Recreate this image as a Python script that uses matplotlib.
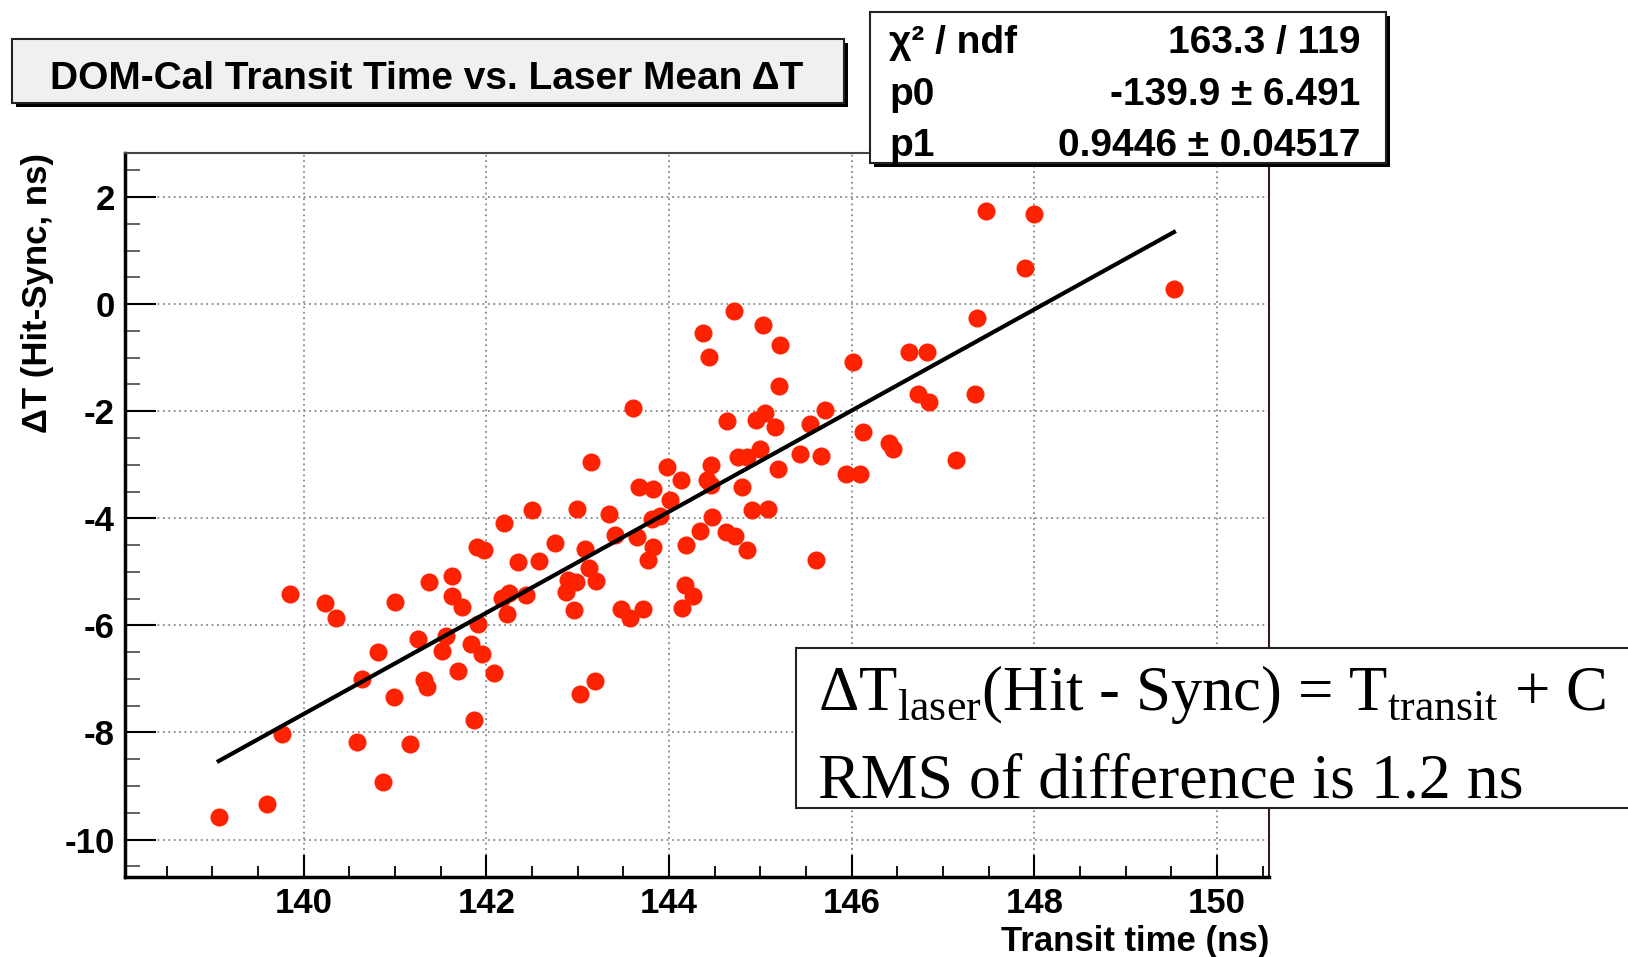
import numpy as np
import matplotlib
matplotlib.use('Agg')
import matplotlib.pyplot as plt
from matplotlib.patches import Rectangle
from matplotlib.ticker import MultipleLocator


"""
DATA (read off the reference picture)
"""
# DOM-Cal transit time (ns)
transit = [139.07, 139.60, 139.76, 139.85, 140.23, 140.35, 140.64, 140.81, 140.58, 140.87,
           141.00, 140.99, 141.16, 141.25, 141.32, 141.35, 141.37, 141.52, 141.56, 141.63,
           141.62, 141.69, 141.73, 141.83, 141.90, 141.98, 141.87, 141.91, 141.95, 142.09,
           142.19, 142.17, 142.23, 142.25, 142.35, 142.44, 142.50, 142.58, 142.75, 142.87,
           142.90, 142.96, 142.99, 143.03, 142.98, 143.08, 143.12, 143.15, 143.19, 143.20,
           143.34, 143.41, 143.48, 143.57, 143.61, 143.67, 143.65, 143.72, 143.77, 143.83,
           143.83, 143.81, 143.90, 143.98, 144.01, 144.13, 144.14, 144.19, 144.18, 144.26,
           144.37, 144.34, 144.44, 144.42, 144.46, 144.46, 144.47, 144.62, 144.64, 144.71,
           144.72, 144.76, 144.80, 144.85, 144.86, 144.91, 144.95, 145.00, 145.03, 145.05,
           145.08, 145.16, 145.19, 145.21, 145.22, 145.44, 145.54, 145.61, 145.66, 145.71,
           145.94, 146.02, 146.09, 146.13, 146.41, 146.45, 146.63, 146.73, 146.83, 146.85,
           147.14, 147.35, 147.37, 147.47, 147.90, 148.00, 149.53]

# laser mean Delta T, Hit - Sync (ns)
delta_t = [-9.58, -9.33, -8.02, -5.42, -5.59, -5.86, -7.00, -6.49, -8.18, -8.92,
           -5.56, -7.34, -8.21, -6.26, -7.02, -7.16, -5.19, -6.48, -6.19, -5.07,
           -5.45, -6.85, -5.66, -6.34, -4.54, -4.60, -7.77, -5.97, -6.53, -6.89,
           -4.08, -5.49, -5.78, -5.40, -4.82, -5.43, -3.85, -4.79, -4.46, -5.37,
           -5.15, -5.72, -3.82, -7.29, -5.19, -4.57, -4.92, -2.95, -7.04, -5.18,
           -3.92, -4.32, -5.69, -5.87, -1.94, -3.41, -4.35, -5.69, -4.78, -4.53,
           -3.46, -4.01, -3.95, -3.04, -3.66, -3.29, -5.68, -4.49, -5.24, -5.46,
           -0.54, -4.23, -0.98, -3.29, -3.37, -3.01, -3.98, -4.25, -2.19, -0.12,
           -4.33, -2.85, -3.42, -2.85, -4.60, -3.84, -2.17, -2.71, -0.39, -2.04,
           -3.83, -2.30, -3.08, -1.53, -0.76, -2.80, -2.23, -4.77, -2.83, -1.97,
           -3.17, -1.09, -3.17, -2.39, -2.60, -2.71, -0.89, -1.68, -0.89, -1.82,
           -2.91, -1.68, -0.26, 1.73, 0.68, 1.69, 0.28]

# linear fit result (stats box)
p0 = -139.9
p1 = 0.9446
stats_names = ['\u03c7\u00b2 / ndf', 'p0', 'p1']
stats_values = ['163.3 / 119', '-139.9 \u00b1 6.491', '0.9446 \u00b1 0.04517']

title = 'DOM-Cal Transit Time vs. Laser Mean \u0394T'
x_label = 'Transit time (ns)'
y_label = '\u0394T (Hit-Sync, ns)'
note_lines = ['\u0394T$_{\\rm laser}$(Hit - Sync) = T$_{\\rm transit}$ + C',
              'RMS of difference is 1.2 ns']


"""
FIGURE SETUP
"""
plt.rcParams['font.family'] = ['Liberation Sans', 'DejaVu Sans']
plt.rcParams['axes.unicode_minus'] = False
plt.rcParams['mathtext.fontset'] = 'custom'
plt.rcParams['mathtext.rm'] = 'Liberation Serif'

W, H = 1628, 957
fig = plt.figure(figsize=(W / 100, H / 100), dpi=100)


def fx(px):
    return px / W


def fy(py):
    return 1 - py / H


ax = fig.add_axes([fx(124.6), fy(877), fx(1269) - fx(124.6), fy(152.6) - fy(877)])

# points + fit line
ax.plot(transit, delta_t, 'o', color='#ff2200', ms=13, mec='none', zorder=3)
xf = np.linspace(min(transit), max(transit), 50)
ax.plot(xf, p0 + p1 * xf, color='black', lw=3, zorder=4)

ax.set_xlim(138.04, 150.57)
ax.set_ylim(-10.7, 2.83)

ax.xaxis.set_major_locator(MultipleLocator(2))
ax.xaxis.set_minor_locator(MultipleLocator(0.5))
ax.yaxis.set_major_locator(MultipleLocator(2))
ax.yaxis.set_minor_locator(MultipleLocator(0.5))

ax.grid(True, which='major', ls=(0, (1, 2)), color='#888888', lw=1.3)
ax.set_axisbelow(True)

ax.tick_params(axis='x', which='major', direction='in', length=16, width=1.5, pad=7)
ax.tick_params(axis='x', which='minor', direction='in', length=8, width=1.3)
ax.tick_params(axis='y', which='major', direction='in', length=22, width=1.5, pad=7)
ax.tick_params(axis='y', which='minor', direction='in', length=11, width=1.3, color='#555555')
for lab in ax.get_xticklabels() + ax.get_yticklabels():
    lab.set_fontsize(25)
    lab.set_fontweight('bold')

ax.spines['left'].set_linewidth(2.5)
ax.spines['bottom'].set_linewidth(2.5)
ax.spines['top'].set_linewidth(1.5)
ax.spines['top'].set_color('#444444')
ax.spines['right'].set_linewidth(1.5)
ax.spines['right'].set_color('#3a1a1a')

ax.set_xlabel(x_label, loc='right', fontsize=25, fontweight='bold', labelpad=4)
ax.set_ylabel(y_label, loc='top', fontsize=25, fontweight='bold', labelpad=8)


"""
BOXES (title, stats, note)
"""
def box(x0, y0, x1, y1, fc, shadow=4, lw=1.5):
    if shadow:
        fig.patches.append(Rectangle((fx(x0 + shadow), fy(y1 + shadow)), fx(x1) - fx(x0), fy(y0) - fy(y1),
                                     transform=fig.transFigure, fc='black', ec='none', zorder=5))
    fig.patches.append(Rectangle((fx(x0), fy(y1)), fx(x1) - fx(x0), fy(y0) - fy(y1),
                                 transform=fig.transFigure, fc=fc, ec='#222222', lw=lw, zorder=6))


box(12, 39, 844, 103, '#f0f0f0')
fig.text(fx(427), fy(89), title, ha='center', va='baseline', fontsize=28, fontweight='bold', zorder=7)

box(870, 12, 1386, 163, 'white')
rows_y = [53, 105, 156]
for name, val, yy in zip(stats_names, stats_values, rows_y):
    fig.text(fx(889), fy(yy), name, ha='left', va='baseline', fontsize=28, fontweight='bold', zorder=7)
    fig.text(fx(1360), fy(yy), val, ha='right', va='baseline', fontsize=28, fontweight='bold', zorder=7)

box(796, 648, 1660, 808, 'white', shadow=0)
for line, yy, fs in zip(note_lines, [710, 797], [45.2, 46]):
    fig.text(fx(818), fy(yy), line, ha='left', va='baseline', fontsize=fs,
             family='Liberation Serif', zorder=7)

fig.savefig('out.png', dpi=100)
